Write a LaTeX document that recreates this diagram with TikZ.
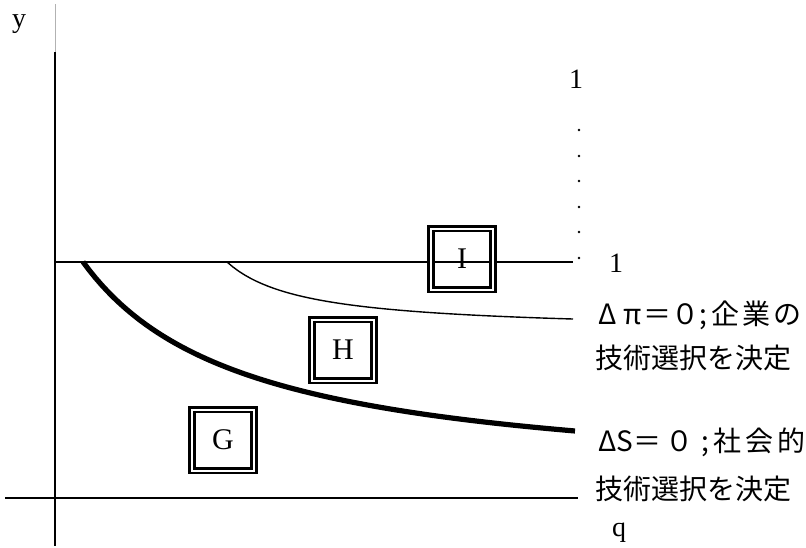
\documentclass[tikz,border=0pt]{standalone}
\usepackage{fontspec}
\setmainfont{Liberation Serif}
\newfontfamily\cjk{Noto Sans CJK JP}
\usepackage{tikz}

\begin{document}
\begin{tikzpicture}[x=0.5pt,y=-0.5pt,
  every node/.style={font=\fontsize{14}{16}\selectfont,inner sep=0pt},
  region/.style={draw,double,line width=1.4pt,double distance=1pt,
    minimum width=31pt,minimum height=30.5pt,font=\fontsize{15}{17}\selectfont}]
  \useasboundingbox (0,0) rectangle (806,547);
  % axes and the line y = 1
  \draw[gray!60,thin] (55,4) -- (55,52);
  \draw[line width=1pt] (55,52) -- (55,546);
  \draw[line width=1pt] (5,498) -- (578,498);
  \draw[line width=1pt] (55,262) -- (573,262);
  \foreach \y in {130,156,181,207,232,258}
    \fill (579,\y) circle (0.65pt);
  % the two curves
  \draw[line width=0.7pt] plot[domain=227:573,samples=60] (\x,{331.7-53.66/((\x-150)*0.01)});
  \draw[line width=2.6pt] plot[domain=83:575,samples=80] (\x,{487-366.75/((\x+80)*0.01)});
  % regions
  \node[region] (regG) at (223,440) {G};
  \node[region] (regH) at (343,350) {H};
  \node[region] (regI) at (462,259) {I};
  % labels
  \node[anchor=base] (ylab) at (19,27) {y};
  \node[anchor=base] (qlab) at (619,536) {q};
  \node[anchor=base] (onetop) at (576,88) {1};
  \node[anchor=base] (oneright) at (616,272) {1};
  \node[anchor=west] (firmA) at (598,315)
    {\cjk Δ π\hspace{1pt}＝０;\hspace{2pt}企\hspace{1.5pt}業\hspace{1.5pt}の};
  \node[anchor=west] (firmB) at (595,358) {\cjk 技術選択を決定};
  \node[anchor=west] (socA) at (598,442)
    {\cjk ΔS＝\hspace{2pt}０\hspace{4pt};\hspace{2pt}社\hspace{2pt}会\hspace{2pt}的};
  \node[anchor=west] (socB) at (595,489) {\cjk 技術選択を決定};
\end{tikzpicture}
\end{document}
